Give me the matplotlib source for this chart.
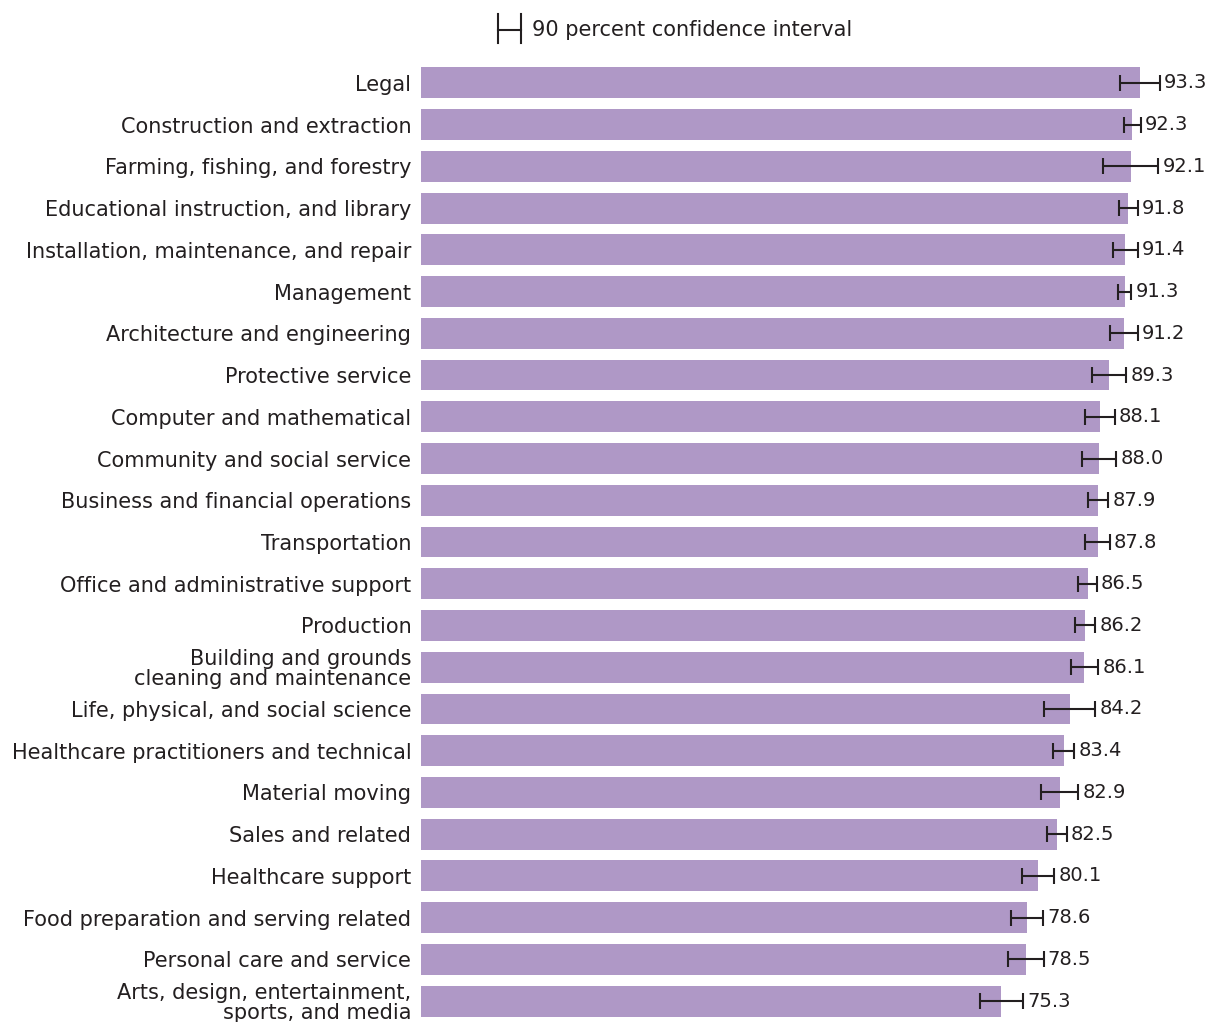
import matplotlib.pyplot as plt
from matplotlib.lines import Line2D

plt.rcParams['font.family'] = ['DejaVu Sans']

# occupations, estimate and 90% margin of error
categorias = ['Legal', 'Construction and extraction', 'Farming, fishing, and forestry',
              'Educational instruction, and library', 'Installation, maintenance, and repair',
              'Management', 'Architecture and engineering', 'Protective service',
              'Computer and mathematical', 'Community and social service',
              'Business and financial operations', 'Transportation',
              'Office and administrative support', 'Production',
              'Building and grounds\ncleaning and maintenance',
              'Life, physical, and social science', 'Healthcare practitioners and technical',
              'Material moving', 'Sales and related', 'Healthcare support',
              'Food preparation and serving related', 'Personal care and service',
              'Arts, design, entertainment,\nsports, and media']
valores = [93.3, 92.3, 92.1, 91.8, 91.4, 91.3, 91.2, 89.3, 88.1, 88.0, 87.9, 87.8,
           86.5, 86.2, 86.1, 84.2, 83.4, 82.9, 82.5, 80.1, 78.6, 78.5, 75.3]
moe = [2.55, 1.1, 3.6, 1.2, 1.6, 0.9, 1.8, 2.2, 1.9, 2.2, 1.3, 1.6,
       1.2, 1.3, 1.8, 3.3, 1.4, 2.4, 1.3, 2.1, 2.1, 2.3, 2.8]

W, H = 1211, 1022
fig = plt.figure(figsize=(W / 100, H / 100), dpi=100)
ax = fig.add_axes([421 / W, 0.0, 1 - 421 / W, 1 - 62 / H])

pos = list(range(len(valores)))
ax.barh(pos, valores, height=0.74, color='#af98c6')
ax.errorbar(valores, pos, xerr=moe, fmt='none', ecolor='#231f20',
            elinewidth=1.5, capsize=5.5, capthick=1.5)

for p, v, m in zip(pos, valores, moe):
    ax.annotate(f'{v:.1f}', xy=(v + m, p), xytext=(3, 0), textcoords='offset points',
                va='center', ha='left', fontsize=14, color='#231f20')

ax.set_yticks(pos)
ax.set_yticklabels(categorias, fontsize=15, color='#231f20', linespacing=0.98)
ax.tick_params(axis='y', length=0, pad=7)
ax.set_xticks([])
ax.set_xlim(0, (W - 421) / 7.706)
ax.set_ylim(len(valores) - 0.5, -0.5)
for s in ax.spines.values():
    s.set_visible(False)

# leyenda manual del intervalo de confianza
def fx(x):
    return x / W

def fy(y):
    return 1 - y / H

fig.add_artist(Line2D([fx(498), fx(521)], [fy(30), fy(30)], color='#231f20', lw=1.5))
fig.add_artist(Line2D([fx(498), fx(498)], [fy(14), fy(43)], color='#231f20', lw=1.5))
fig.add_artist(Line2D([fx(521), fx(521)], [fy(14), fy(43)], color='#231f20', lw=1.5))
fig.text(fx(532), fy(30), '90 percent confidence interval', fontsize=15,
         color='#231f20', va='center', ha='left')

fig.savefig('out.png', dpi=100)
